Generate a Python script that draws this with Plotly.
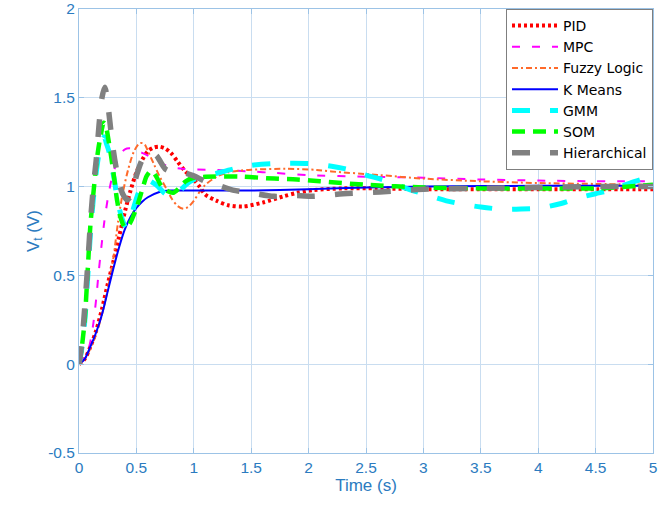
import plotly.graph_objects as go

# ---------------- data ----------------
t_pid = [0, 0.05, 0.1, 0.15, 0.2, 0.25, 0.3, 0.35, 0.4, 0.45, 0.5, 0.55, 0.6, 0.65, 0.7, 0.75, 0.8, 0.86,
         0.92, 1.0, 1.05, 1.1, 1.2, 1.3, 1.43, 1.6, 1.78, 1.9, 2.04, 2.3, 2.6, 3.0, 3.5, 4.0, 4.5, 5.0]
v_pid = [0, 0.03, 0.1, 0.19, 0.31, 0.45, 0.58, 0.72, 0.86, 0.98, 1.08, 1.15, 1.2, 1.22, 1.225, 1.215, 1.19, 1.14,
         1.09, 1.04, 1.0, 0.955, 0.92, 0.895, 0.888, 0.91, 0.945, 0.965, 0.98, 0.99, 0.99, 0.985, 0.985, 0.985, 0.985, 0.985]

t_mpc = [0, 0.05, 0.08, 0.1, 0.125, 0.15, 0.17, 0.2, 0.22, 0.25, 0.28, 0.31, 0.35, 0.4, 0.45, 0.5, 0.55, 0.6,
         0.65, 0.7, 0.8, 0.9, 1.0, 1.2, 1.5, 1.7, 2.0, 2.5, 3.0, 3.5, 4.0, 4.5, 5.0]
v_mpc = [0, 0.04, 0.08, 0.13, 0.23, 0.37, 0.51, 0.69, 0.8, 0.93, 1.03, 1.1, 1.17, 1.21, 1.215, 1.2, 1.19, 1.175,
         1.155, 1.135, 1.11, 1.1, 1.097, 1.094, 1.085, 1.077, 1.065, 1.056, 1.05, 1.04, 1.034, 1.03, 1.03]

t_fuzzy = [0, 0.05, 0.1, 0.15, 0.2, 0.25, 0.3, 0.34, 0.38, 0.43, 0.48, 0.53, 0.57, 0.6, 0.65, 0.7, 0.76, 0.81,
           0.86, 0.91, 0.95, 1.0, 1.05, 1.1, 1.2, 1.3, 1.4, 1.5, 1.8, 2.07, 2.2, 2.6, 3.0, 3.5, 4.0, 4.5, 5.0]
v_fuzzy = [0, 0.03, 0.09, 0.17, 0.28, 0.42, 0.6, 0.8, 0.96, 1.1, 1.2, 1.245, 1.24, 1.2, 1.13, 1.06, 0.99, 0.93,
           0.89, 0.875, 0.885, 0.92, 0.97, 1.01, 1.056, 1.08, 1.09, 1.095, 1.1, 1.094, 1.085, 1.066, 1.045, 1.03, 1.02, 1.015, 1.01]

t_kmeans = [0, 0.05, 0.1, 0.15, 0.2, 0.25, 0.3, 0.35, 0.4, 0.45, 0.5, 0.55, 0.6, 0.7, 0.8, 1.0, 1.5, 2.0, 2.5,
            3.0, 4.0, 5.0]
v_kmeans = [0, 0.03, 0.1, 0.18, 0.28, 0.41, 0.54, 0.66, 0.76, 0.83, 0.88, 0.915, 0.94, 0.97, 0.978, 0.978, 0.978,
            0.985, 0.995, 1.0, 1.005, 1.005]

t_gmm = [0, 0.025, 0.05, 0.075, 0.1, 0.125, 0.15, 0.175, 0.2, 0.22, 0.24, 0.26, 0.28, 0.31, 0.33, 0.37, 0.41,
         0.45, 0.48, 0.52, 0.56, 0.6, 0.65, 0.69, 0.75, 0.81, 0.87, 0.93, 1.0, 1.08, 1.2, 1.35, 1.5, 1.7, 2.0,
         2.2, 2.36, 2.5, 2.69, 2.85, 3.02, 3.2, 3.35, 3.5, 3.68, 3.85, 4.02, 4.2, 4.34, 4.5, 4.63, 4.8, 5.0]
v_gmm = [0, 0.09, 0.24, 0.48, 0.74, 0.93, 1.08, 1.19, 1.26, 1.28, 1.24, 1.2, 1.13, 1.03, 0.94, 0.83, 0.77,
         0.82, 0.89, 0.97, 1.02, 1.035, 1.02, 1.0, 0.96, 0.945, 0.97, 1.01, 1.04, 1.055, 1.075, 1.1, 1.12, 1.13, 1.13,
         1.115, 1.094, 1.065, 1.03, 0.99, 0.955, 0.92, 0.9, 0.885, 0.873, 0.874, 0.88, 0.905, 0.935, 0.96, 0.98, 1.02, 1.06]

t_som = [0, 0.025, 0.05, 0.075, 0.1, 0.125, 0.15, 0.17, 0.19, 0.215, 0.23, 0.26, 0.28, 0.31, 0.33, 0.36, 0.4,
         0.44, 0.5, 0.55, 0.59, 0.63, 0.67, 0.72, 0.77, 0.82, 0.87, 0.93, 1.0, 1.1, 1.4, 1.7, 1.9, 2.1, 2.5,
         3.0, 3.5, 4.0, 4.5, 5.0]
v_som = [0, 0.1, 0.25, 0.52, 0.79, 0.96, 1.12, 1.22, 1.29, 1.36, 1.35, 1.25, 1.17, 1.03, 0.93, 0.83, 0.77,
         0.79, 0.88, 0.98, 1.06, 1.09, 1.06, 1.0, 0.975, 0.965, 0.99, 1.03, 1.05, 1.055, 1.056, 1.045, 1.04, 1.03, 1.01,
         0.995, 0.99, 0.99, 0.99, 1.01]

t_hier = [0, 0.025, 0.05, 0.075, 0.1, 0.125, 0.15, 0.175, 0.2, 0.225, 0.25, 0.275, 0.3, 0.325, 0.35, 0.38, 0.42,
          0.46, 0.5, 0.55, 0.6, 0.64, 0.68, 0.75, 0.8, 0.9, 1.0, 1.1, 1.2, 1.34, 1.5, 1.7, 1.9, 2.04, 2.3, 2.62,
          3.0, 3.5, 4.0, 4.5, 5.0]
v_hier = [0, 0.12, 0.32, 0.55, 0.8, 1.0, 1.15, 1.35, 1.5, 1.56, 1.47, 1.33, 1.2, 1.1, 1.02, 0.96, 0.925,
          0.96, 1.06, 1.15, 1.185, 1.19, 1.17, 1.1, 1.085, 1.08, 1.06, 1.03, 1.01, 0.98, 0.965, 0.945, 0.95, 0.945, 0.96, 0.97,
          0.985, 0.99, 0.995, 1.0, 1.0]

series_names = ["PID", "MPC", "Fuzzy Logic", "K Means", "GMM", "SOM", "Hierarchical"]

x_ticks = [0, 0.5, 1, 1.5, 2, 2.5, 3, 3.5, 4, 4.5, 5]
x_tick_labels = ["0", "0.5", "1", "1.5", "2", "2.5", "3", "3.5", "4", "4.5", "5"]
y_ticks = [-0.5, 0, 0.5, 1, 1.5, 2]
y_tick_labels = ["-0.5", "0", "0.5", "1", "1.5", "2"]

# ---------------- styles ----------------
styles = [
    dict(color="#FF0000", width=4, dash="3px,3px"),
    dict(color="#FF00FF", width=2, dash="8px,12px"),
    dict(color="#FF6A2A", width=2, dash="6px,3px,2px,3px"),
    dict(color="#0000FF", width=2, dash="solid"),
    dict(color="#00FFFF", width=5, dash="18px,20px"),
    dict(color="#00FF00", width=4.5, dash="13px,8px"),
    dict(color="#808080", width=5.5, dash="18px,20px"),
]

data = [(t_pid, v_pid), (t_mpc, v_mpc), (t_fuzzy, v_fuzzy), (t_kmeans, v_kmeans),
        (t_gmm, v_gmm), (t_som, v_som), (t_hier, v_hier)]

fig = go.Figure()
for (tx, vy), name, st in zip(data, series_names, styles):
    fig.add_trace(go.Scatter(x=tx, y=vy, mode="lines", name=name,
                             line=dict(shape="spline", smoothing=0.8, **st)))

axis_color = "#2B7BC0"
line_color = "#9CC3E6"
grid_color = "#C9DDF0"
font_family = "Liberation Sans, Arial, Helvetica, sans-serif"

common_axis = dict(showgrid=True, gridcolor=grid_color, gridwidth=1, zeroline=False,
                   showline=True, linecolor=line_color, linewidth=1, mirror="ticks",
                   ticks="inside", ticklen=5, tickcolor=line_color, automargin=False,
                   tickfont=dict(family=font_family, size=15.5, color=axis_color))

fig.update_layout(
    width=670, height=508,
    margin=dict(l=79, r=17, t=9, b=55),
    paper_bgcolor="white", plot_bgcolor="white",
    font=dict(family=font_family, color=axis_color),
    xaxis=dict(range=[0, 5], tickvals=x_ticks, ticktext=x_tick_labels,
               title=dict(text="Time (s)", font=dict(size=17, color=axis_color), standoff=4),
               **common_axis),
    yaxis=dict(range=[-0.5, 2], tickvals=y_ticks, ticktext=y_tick_labels,
               title=dict(text="V<sub>t</sub> (V)", font=dict(size=17, color=axis_color), standoff=4),
               **common_axis),
    legend=dict(x=1, y=1, xanchor="right", yanchor="top",
                bgcolor="white", bordercolor="#7F7F7F", borderwidth=1,
                font=dict(family="DejaVu Sans, Liberation Sans, sans-serif", size=14, color="black"),
                itemwidth=46, tracegroupgap=0),
    showlegend=True,
)

# remove the default page margin so the figure sits at the window's top-left corner
fig.write_html("out.html", config={"displayModeBar": False},
               post_script="document.body.style.margin='0px';")
